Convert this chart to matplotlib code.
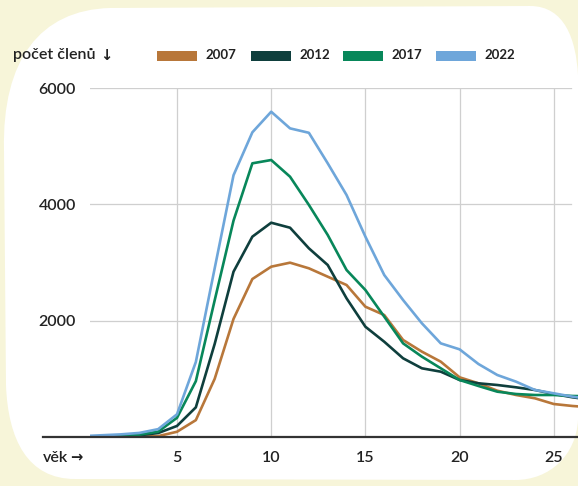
import matplotlib

matplotlib.use("Agg")
import matplotlib.pyplot as plt
from matplotlib.patches import PathPatch, Rectangle
from matplotlib.path import Path

plt.rcParams["font.family"] = ["Lato", "DejaVu Sans"]

# age in years, number of members per birth cohort for each year of the survey
ages = list(range(0, 28))
members_2007 = [5, 5, 5, 8, 15, 90, 290, 1000, 2030, 2716, 2928, 2997, 2900, 2756,
                2613, 2240, 2097, 1668, 1467, 1295, 1026, 923, 796, 722, 665, 567, 533, 510]
members_2012 = [5, 8, 15, 30, 68, 190, 510, 1600, 2842, 3444, 3684, 3598, 3244, 2957,
                2384, 1896, 1638, 1353, 1181, 1123, 980, 923, 894, 854, 808, 739, 682, 640]
members_2017 = [8, 12, 25, 40, 92, 330, 960, 2350, 3720, 4705, 4762, 4475, 3990, 3473,
                2871, 2527, 2069, 1610, 1381, 1181, 980, 877, 779, 739, 722, 722, 705, 700]
members_2022 = [15, 30, 45, 70, 135, 390, 1290, 2900, 4500, 5238, 5592, 5306, 5230, 4705,
                4160, 3444, 2785, 2355, 1954, 1610, 1507, 1255, 1066, 951, 808, 751, 693, 650]

series_labels = ["2007", "2012", "2017", "2022"]
series_colors = ["#b8773a", "#0f3f3d", "#08875a", "#6ea6da"]
x_ticks = [5, 10, 15, 20, 25]
y_ticks = [2000, 4000, 6000]

BG = "#f7f5d9"
TEXT = "#222222"
W, H = 578, 486

fig = plt.figure(figsize=(W / 100, H / 100), dpi=100, facecolor=BG)

# white rounded card behind the chart (pixel coordinates, y downwards)
bg = fig.add_axes([0, 0, 1, 1])
bg.set_xlim(0, W)
bg.set_ylim(H, 0)
bg.axis("off")
verts = [
    (110, 8), (530, 6),
    (565, 6), (576, 40), (578, 75),
    (578, 420),
    (576, 455), (550, 480), (515, 480),
    (75, 479),
    (28, 479), (8, 440), (6, 385),
    (4, 150),
    (2, 60), (40, 10), (110, 8),
]
codes = [Path.MOVETO, Path.LINETO,
         Path.CURVE4, Path.CURVE4, Path.CURVE4,
         Path.LINETO,
         Path.CURVE4, Path.CURVE4, Path.CURVE4,
         Path.LINETO,
         Path.CURVE4, Path.CURVE4, Path.CURVE4,
         Path.LINETO,
         Path.CURVE4, Path.CURVE4, Path.CURVE4]
bg.add_patch(PathPatch(Path(verts, codes), facecolor="white", edgecolor="none"))

ax_left, ax_right, ax_top, ax_bottom = 90, 578, 88, 437
ax = fig.add_axes([ax_left / W, (H - ax_bottom) / H,
                   (ax_right - ax_left) / W, (ax_bottom - ax_top) / H])
ax.set_facecolor("none")
x0 = (ax_left - 82.8) / 18.84
x1 = (ax_right - 82.8) / 18.84
ax.set_xlim(x0, x1)
ax.set_ylim(0, 6000)

grid_end = (571 - ax_left) / (ax_right - ax_left)
for y in y_ticks:
    ax.axhline(y, xmin=0, xmax=grid_end, color="#cfcfcf", lw=0.9, zorder=0)
for x in x_ticks:
    ax.axvline(x, color="#cfcfcf", lw=0.9, zorder=0)

for values, label, color in zip([members_2007, members_2012, members_2017, members_2022],
                                series_labels, series_colors):
    ax.plot(ages, values, color=color, lw=1.9, label=label, zorder=3)

# baseline reaching out to the left under the axis label
ax.plot([(43 - ax_left) / (ax_right - ax_left), 1], [0, 0], transform=ax.transAxes,
        color="#333333", lw=1.6, clip_on=False, zorder=4)

for side in ax.spines.values():
    side.set_visible(False)
ax.set_xticks(x_ticks)
ax.set_yticks(y_ticks)
ax.tick_params(length=0, labelsize=11.5, colors=TEXT, pad=10)
for lab in ax.get_xticklabels() + ax.get_yticklabels():
    lab.set_fontweight("semibold")

fig.text(13 / W, 1 - 55 / H, "počet členů", fontsize=11.5, color=TEXT,
         va="center", ha="left", fontweight="semibold")
fig.text(100 / W, 1 - 56 / H, "↓", fontsize=10.5, color=TEXT, family="DejaVu Sans",
         va="center", ha="left", fontweight="bold")
fig.text(43 / W, 1 - 458 / H, "věk", fontsize=11.5, color=TEXT,
         va="center", ha="left", fontweight="semibold")
fig.text(70 / W, 1 - 457 / H, "→", fontsize=10.5, color=TEXT, family="DejaVu Sans",
         va="center", ha="left", fontweight="bold")

# legend drawn by hand in one row
legend_x = [157, 251, 343, 436]
for lx, label, color in zip(legend_x, series_labels, series_colors):
    fig.patches.append(Rectangle((lx / W, 1 - 61 / H), 40 / W, 10 / H,
                                 transform=fig.transFigure, facecolor=color,
                                 edgecolor="none"))
    fig.text((lx + 48) / W, 1 - 55 / H, label, fontsize=9.5, fontweight="bold",
             color=TEXT, va="center", ha="left")

fig.savefig("out.png", dpi=100, facecolor=BG)
